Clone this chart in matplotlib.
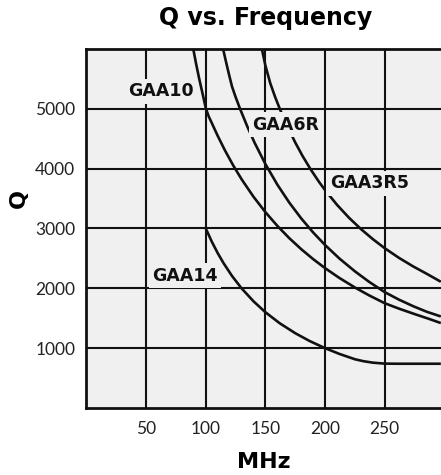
"""Q vs. Frequency curves for air-wound coils"""

import matplotlib
matplotlib.use('Agg')
import matplotlib.pyplot as plt

# values (MHz, Q)
gaa10_f = [89.5, 92, 94.5, 97, 100, 102.5, 105, 110, 116, 123, 130, 140, 150,
           160, 170, 180, 190, 200, 212, 225, 237, 250, 262, 275, 287, 297]
gaa10_q = [6000, 5740, 5500, 5280, 5010, 4870, 4764, 4547, 4307, 4053, 3823,
           3530, 3272, 3043, 2838, 2654, 2488, 2337, 2173, 2014, 1881, 1751,
           1660, 1570, 1490, 1420]

gaa6r_f = [114.5, 117, 119.5, 122, 125, 128.7, 135, 141, 150, 160, 170, 180,
           190, 200, 212, 225, 237, 250, 262, 274, 285, 297]
gaa6r_q = [6000, 5780, 5570, 5370, 5196, 5000, 4694, 4429, 4075, 3732, 3432,
           3168, 2933, 2723, 2498, 2284, 2107, 1936, 1810, 1700, 1610, 1530]

gaa3r5_f = [147, 150, 154, 158, 162, 168, 175, 181, 188, 195, 200, 210, 220,
            230, 240, 250, 262, 274, 285, 297]
gaa3r5_q = [6000, 5720, 5430, 5203, 5000, 4723, 4436, 4215, 3984, 3776, 3640,
            3395, 3180, 2991, 2822, 2670, 2508, 2364, 2245, 2110]

gaa14_f = [100, 105, 110, 115, 122, 130, 140, 150, 162, 175, 187, 200, 212,
           225, 232, 240, 250, 260, 297]
gaa14_q = [3000, 2781, 2588, 2417, 2206, 2000, 1783, 1600, 1416, 1250, 1120,
           1000, 904, 815, 783, 758, 742, 740, 740]

labels = ['GAA10', 'GAA6R', 'GAA3R5', 'GAA14']
label_f = [62.4, 167.2, 237.2, 82.6]
label_q = [5292, 4732, 3754, 2207]

xticks = [50, 100, 150, 200, 250]
yticks = [1000, 2000, 3000, 4000, 5000]

BG = '#f0f0f0'
INK = '#111111'
HEAD = 'DejaVu Sans'

plt.rcParams['font.family'] = ['Lato', 'DejaVu Sans']

fig = plt.figure(figsize=(4.41, 4.75), dpi=100)
ax = fig.add_axes([0.1961, 0.141, 0.8116, 0.756])
ax.set_facecolor(BG)

for f, q in [(gaa10_f, gaa10_q), (gaa6r_f, gaa6r_q),
             (gaa3r5_f, gaa3r5_q), (gaa14_f, gaa14_q)]:
    ax.plot(f, q, color=INK, lw=1.9, solid_capstyle='butt',
            solid_joinstyle='round', zorder=3)

for txt, f, q in zip(labels, label_f, label_q):
    ax.text(f, q, txt, ha='center', va='center', fontsize=12.5,
            family=HEAD, fontweight='bold', color=INK, zorder=5,
            bbox=dict(boxstyle='square,pad=0.2', fc=BG, ec='none'))

ax.set_xlim(0, 300)
ax.set_ylim(0, 6000)
ax.set_xticks(xticks)
ax.set_yticks(yticks)
ax.grid(True, color=INK, lw=1.5)
ax.set_axisbelow(True)
ax.tick_params(length=0, labelsize=12.5, colors='#222222')
ax.tick_params(axis='x', pad=9)
ax.tick_params(axis='y', pad=8)

for side in ['left', 'bottom', 'top']:
    ax.spines[side].set_color(INK)
    ax.spines[side].set_linewidth(2)
ax.spines['right'].set_visible(False)

ax.set_title('Q vs. Frequency', fontsize=17, family=HEAD, fontweight='bold',
             y=1.062, va='center')
ax.set_xlabel('MHz', fontsize=16, family=HEAD, fontweight='bold', va='center')
ax.xaxis.set_label_coords(0.496, -0.149)
ax.set_ylabel('Q', fontsize=16, family=HEAD, fontweight='bold', va='center')
ax.yaxis.set_label_coords(-0.189, 0.584)

fig.savefig('out.png', dpi=100)
